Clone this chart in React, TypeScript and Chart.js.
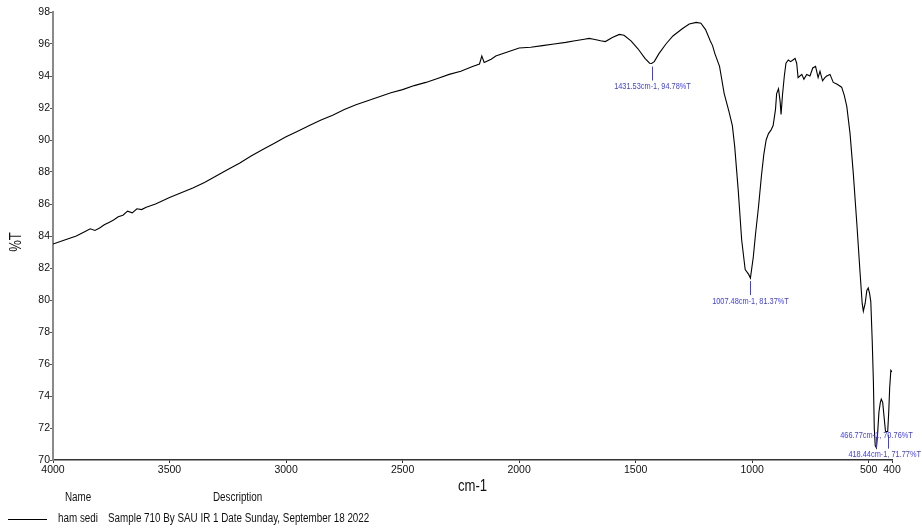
import React, { useEffect, useRef } from "react";
import { Chart, registerables } from "chart.js";

Chart.register(...registerables);

// IR transmittance spectrum, wavenumber (cm-1) vs %T
const wavenumbers = [
  4000, 3950, 3900, 3860, 3840, 3820, 3800, 3780, 3760, 3740, 3720, 3700, 3680, 3660, 3640,
  3620, 3600, 3560, 3500, 3450, 3400, 3350, 3300, 3250, 3200, 3150, 3100, 3050, 3000, 2950,
  2900, 2850, 2800, 2750, 2700, 2650, 2600, 2550, 2500, 2450, 2400, 2350, 2300, 2250, 2200,
  2170, 2160, 2150, 2120, 2100, 2050, 2000, 1950, 1900, 1850, 1800, 1760, 1720, 1700, 1680,
  1650, 1630, 1600, 1570, 1550, 1520, 1490, 1460, 1440, 1431.53, 1420, 1400, 1370, 1340, 1300,
  1270, 1240, 1220, 1200, 1180, 1170, 1160, 1140, 1120, 1100, 1085, 1075, 1060, 1045, 1030,
  1015, 1007.48, 995, 985, 973, 960, 950, 940, 930, 920, 910, 900, 895, 887, 880,
  876, 870, 862, 855, 845, 835, 825, 816, 809, 803, 795, 787, 778, 766, 752,
  740, 728, 717, 709, 698, 688, 680, 666, 652, 637, 616, 605, 594, 580, 566,
  551, 537, 528, 523, 515, 508, 502, 496, 491, 485, 480, 476, 472, 466.77, 462,
  456, 450, 446, 440, 434, 428, 418.44, 414, 410, 405, 400,
];

const transmittance = [
  83.5, 83.75, 84.0, 84.3, 84.45, 84.35, 84.5, 84.7, 84.85, 85.0, 85.2, 85.3, 85.55, 85.45, 85.7,
  85.65, 85.8, 86.0, 86.4, 86.7, 87.0, 87.35, 87.75, 88.15, 88.55, 89.0, 89.4, 89.8, 90.2, 90.55,
  90.9, 91.25, 91.55, 91.9, 92.2, 92.45, 92.7, 92.95, 93.15, 93.4, 93.6, 93.85, 94.1, 94.3, 94.6,
  94.75, 95.25, 94.85, 95.05, 95.25, 95.5, 95.75, 95.8, 95.9, 96.0, 96.1, 96.2, 96.3, 96.35, 96.3,
  96.2, 96.15, 96.4, 96.6, 96.55, 96.2, 95.7, 95.1, 94.8, 94.78, 94.9, 95.4, 96.0, 96.5, 96.95,
  97.25, 97.35, 97.3, 96.9, 96.2, 95.9, 95.4, 94.6, 92.9, 91.8, 90.9, 89.6, 86.9, 83.75, 81.9,
  81.6, 81.37, 82.7, 84.2, 85.8, 87.8, 89.1, 90.0, 90.4, 90.6, 90.9, 91.9, 92.9, 93.2, 92.4,
  91.6, 92.8, 94.0, 94.8, 95.0, 94.9, 95.0, 95.1, 94.8, 93.9, 94.0, 94.1, 93.8, 94.1, 94.0,
  94.5, 94.6, 93.9, 94.3, 93.7, 93.9, 94.0, 94.1, 93.6, 93.5, 93.3, 92.8, 92.1, 90.4, 87.9,
  84.8, 81.7, 79.8, 79.3, 79.8, 80.6, 80.75, 80.4, 79.9, 77.5, 75.0, 72.0, 70.9, 70.76, 71.6,
  73.0, 73.6, 73.8, 73.6, 72.7, 71.8, 71.77, 73.0, 74.5, 75.6, 75.5,
];

// Labelled absorption peaks
const peakWavenumbers = [1431.53, 1007.48, 466.77, 418.44];
const peakTransmittance = [94.78, 81.37, 70.76, 71.77];
const peakAbove = [false, false, true, false];

const xTickValues = [4000, 3500, 3000, 2500, 2000, 1500, 1000, 500, 400];

const sampleName = "ham sedi";
const sampleDescription = "Sample 710 By SAU IR 1 Date Sunday, September 18 2022";

const SANS = '"Liberation Sans", Arial, sans-serif';
const NARROW_SCALE = 0.82;
const PEAK_COLOR = "#3c3cff";

// Draws text in a condensed face by squeezing Liberation Sans horizontally.
function narrowText(
  ctx: CanvasRenderingContext2D,
  text: string,
  x: number,
  y: number,
  size: number,
  align: CanvasTextAlign
) {
  ctx.save();
  ctx.font = `${size}px ${SANS}`;
  ctx.textAlign = align;
  ctx.textBaseline = "middle";
  ctx.translate(x, y);
  ctx.scale(NARROW_SCALE, 1);
  ctx.fillText(text, 0, 0);
  ctx.restore();
}

function narrowWidth(ctx: CanvasRenderingContext2D, text: string, size: number) {
  ctx.save();
  ctx.font = `${size}px ${SANS}`;
  const w = ctx.measureText(text).width * NARROW_SCALE;
  ctx.restore();
  return w;
}

const textPlugin = {
  id: "spectrumText",
  afterDraw(chart: any) {
    const { ctx, chartArea, scales } = chart;
    const xs = scales.x;
    const ys = scales.y;
    ctx.save();

    // peak markers and labels
    ctx.fillStyle = PEAK_COLOR;
    ctx.strokeStyle = PEAK_COLOR;
    ctx.lineWidth = 1;
    peakWavenumbers.forEach((wn, i) => {
      const px = Math.round(xs.getPixelForValue(wn)) + 0.5;
      const py = ys.getPixelForValue(peakTransmittance[i]);
      const label = `${wn.toFixed(2)}cm-1, ${peakTransmittance[i].toFixed(2)}%T`;
      const w = narrowWidth(ctx, label, 9);
      let cx = px;
      if (cx + w / 2 > chart.width - 1) cx = chart.width - 1 - w / 2;
      ctx.beginPath();
      if (peakAbove[i]) {
        ctx.moveTo(px, py);
        ctx.lineTo(px, py - 11);
        ctx.stroke();
        narrowText(ctx, label, cx, py - 12, 9, "center");
      } else {
        ctx.moveTo(px, py + 3);
        ctx.lineTo(px, py + 17);
        ctx.stroke();
        narrowText(ctx, label, cx, py + 23, 9, "center");
      }
    });

    // axis titles
    ctx.fillStyle = "#111";
    narrowText(ctx, "cm-1", (chartArea.left + chartArea.right) / 2, 487, 16, "center");

    ctx.save();
    ctx.translate(17, 242);
    ctx.rotate(-Math.PI / 2);
    narrowText(ctx, "%T", 0, 0, 16, "center");
    ctx.restore();

    // sample table under the plot
    ctx.fillStyle = "#111";
    narrowText(ctx, "Name", 65, 498, 12, "left");
    narrowText(ctx, "Description", 213, 498, 12, "left");
    narrowText(ctx, sampleName, 58, 519, 12, "left");
    narrowText(ctx, sampleDescription, 108, 519, 12, "left");
    ctx.strokeStyle = "#000";
    ctx.lineWidth = 1;
    ctx.beginPath();
    ctx.moveTo(8, 519.5);
    ctx.lineTo(47, 519.5);
    ctx.stroke();

    ctx.restore();
  },
};

export default function App() {
  const canvasRef = useRef<HTMLCanvasElement | null>(null);

  useEffect(() => {
    if (!canvasRef.current) return;
    const points = wavenumbers.map((wn, i) => ({ x: wn, y: transmittance[i] }));
    const chart = new Chart(canvasRef.current, {
      type: "line",
      data: {
        datasets: [
          {
            data: points,
            borderColor: "#000",
            borderWidth: 1.1,
            pointRadius: 0,
            tension: 0,
            fill: false,
          },
        ],
      },
      options: {
        animation: false,
        responsive: false,
        events: [],
        layout: { padding: { top: 12, right: 30, left: 0, bottom: 0 } },
        plugins: {
          legend: { display: false },
          tooltip: { enabled: false },
        },
        scales: {
          x: {
            type: "linear",
            reverse: true,
            min: 400,
            max: 4000,
            afterBuildTicks: (scale: any) => {
              scale.ticks = xTickValues.map((v) => ({ value: v }));
            },
            afterFit: (scale: any) => {
              scale.height = 68;
            },
            border: { display: true, color: "#333", width: 1.5 },
            grid: { drawOnChartArea: false, drawTicks: true, tickLength: 3, color: "#333" },
            ticks: {
              autoSkip: false,
              maxRotation: 0,
              padding: 1,
              color: "#111",
              font: { family: SANS, size: 10.5 },
              callback: (v: any) => String(v),
            },
          },
          y: {
            min: 70,
            max: 98,
            afterFit: (scale: any) => {
              scale.width = 53;
            },
            border: { display: true, color: "#8a8a8a", width: 2 },
            grid: { drawOnChartArea: false, drawTicks: true, tickLength: 3, color: "#555" },
            ticks: {
              stepSize: 2,
              padding: 0,
              color: "#111",
              font: { family: SANS, size: 10.5 },
            },
          },
        },
      },
      plugins: [textPlugin],
    });
    return () => chart.destroy();
  }, []);

  return (
    <div style={{ position: "absolute", left: 0, top: 0, width: 922, height: 528, background: "#fff" }}>
      <canvas ref={canvasRef} width={922} height={528} style={{ display: "block" }} />
    </div>
  );
}
